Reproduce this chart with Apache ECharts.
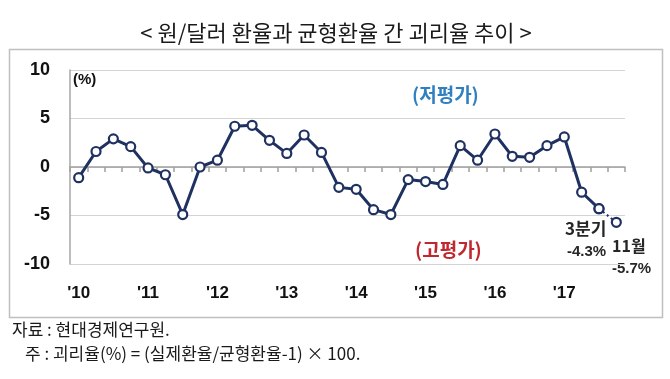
<!DOCTYPE html>
<html><head><meta charset="utf-8">
<script src="https://cdn.jsdelivr.net/npm/echarts@6/dist/echarts.min.js"></script>
<style>html,body{margin:0;padding:0;background:#fff}#c{width:670px;height:379px}</style>
</head><body><div id="c"></div>
<script>
var years = ['10','11','12','13','14','15','16','17'];
var quarters = ['Q1','Q2','Q3','Q4'];
// quarterly gap (%) 2010Q1 - 2017Q3, then Nov 2017
var gapValues = [-1.1, 1.6, 2.9, 2.1, -0.1, -0.8, -4.9, 0.0, 0.7, 4.2, 4.3, 2.75, 1.4, 3.3, 1.5, -2.1,
  -2.3, -4.4, -4.9, -1.3, -1.5, -1.8, 2.2, 0.7, 3.4, 1.1, 1.0, 2.2, 3.1, -2.6, -4.3];
var novValue = -5.7;
var yTicks = [-10, -5, 0, 5, 10];

var categories = [];
years.forEach(function(y){ quarters.forEach(function(q){ categories.push(y + q); }); });

var solidData = gapValues.concat([null]);
var dottedData = categories.map(function(c, i){
  if (i === gapValues.length - 1) return gapValues[i];
  if (i === gapValues.length) return novValue;
  return null;
});

var FONT = '"Noto Sans CJK KR", "Noto Sans", sans-serif';
var LAT = '"Liberation Sans", Arial, sans-serif';
var navy = '#1f3160';
function txt(x, y, text, font, fill, align) {
  return {type: 'text', x: x, y: y, style: {text: text, font: font, fill: fill, align: align || 'left', verticalAlign: 'middle'}};
}
var chart = echarts.init(document.getElementById('c'));
chart.setOption({
  animation: false,
  grid: {left: 70, right: 45, top: 70, bottom: 115},
  xAxis: [{
    type: 'category', data: categories, boundaryGap: true,
    axisLine: {onZero: true, lineStyle: {color: '#a0a0a0', width: 1.5}},
    axisTick: {show: true, inside: false, length: 5, interval: 0, lineStyle: {color: '#a0a0a0', width: 1.5}},
    axisLabel: {show: false}, splitLine: {show: false}
  }, {
    type: 'category', data: categories, boundaryGap: true, position: 'bottom',
    axisLine: {show: false, onZero: false}, axisTick: {show: false},
    axisLabel: {
      show: true, interval: 3, margin: 21,
      fontFamily: LAT, fontSize: 17, fontWeight: 'bold', color: '#111',
      formatter: function(v){ return "'" + v.slice(0, 2); }
    }
  }],
  yAxis: {
    type: 'value', min: -10, max: 10, interval: 5,
    axisLine: {show: true, lineStyle: {color: '#a6a6a6', width: 1.5}},
    axisTick: {show: false},
    axisLabel: {fontFamily: LAT, fontSize: 18, fontWeight: 'bold', color: '#111', margin: 20,
      formatter: function(v){ return yTicks.indexOf(v) >= 0 ? String(v) : ''; }},
    splitLine: {show: true, lineStyle: {color: '#d4d4d4', width: 1.2}}
  },
  series: [{
    type: 'line', xAxisIndex: 0, data: solidData,
    symbol: 'circle', symbolSize: 9, showAllSymbol: true,
    lineStyle: {color: navy, width: 3},
    itemStyle: {color: '#fff', borderColor: navy, borderWidth: 2.2},
    z: 3
  }, {
    type: 'line', xAxisIndex: 0, data: dottedData,
    symbol: 'circle', symbolSize: 9, showAllSymbol: true,
    lineStyle: {color: navy, width: 2, type: [2, 3]},
    itemStyle: {color: '#fff', borderColor: navy, borderWidth: 2.2},
    z: 2
  }],
  graphic: [
    {type: 'rect', shape: {x: 9.5, y: 49.5, width: 653, height: 268}, style: {fill: 'none', stroke: '#bfbfbf', lineWidth: 1.5}, z: -1},
    txt(336, 33, '< 원/달러 환율과 균형환율 간 괴리율 추이 >', '22px ' + FONT, '#1a1a1a', 'center'),
    txt(73, 80, '(%)', 'bold 15px ' + LAT, '#111'),
    txt(412, 95, '(저평가)', 'bold 19px ' + FONT, '#2f7fc1'),
    txt(415, 250, '(고평가)', 'bold 19px ' + FONT, '#c0282d'),
    txt(565, 229, '3분기', 'bold 17px ' + FONT, '#262626'),
    txt(567, 252, '-4.3%', 'bold 15px ' + LAT, '#262626'),
    txt(612, 246, '11월', 'bold 16px ' + FONT, '#262626'),
    txt(612, 269, '-5.7%', 'bold 15px ' + LAT, '#262626'),
    txt(12, 330, '자료 : 현대경제연구원.', '17px ' + FONT, '#1a1a1a'),
    txt(25, 354, '주 : 괴리율(%) = (실제환율/균형환율-1) × 100.', '17px ' + FONT, '#1a1a1a')
  ]
});
</script></body></html>
